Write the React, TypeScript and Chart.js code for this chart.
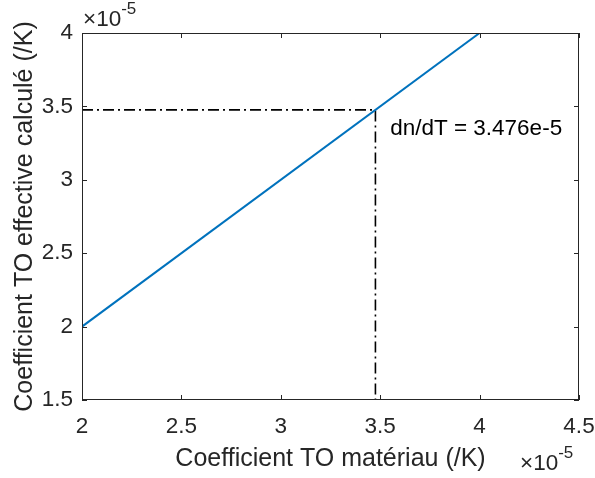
import React, { useEffect, useRef } from "react";
import { Chart, registerables } from "chart.js";

Chart.register(...registerables);

// Values in units of 1e-5 /K
const lineX = [2, 4];
const lineY = [2, 4];
const dnDT = 3.476;
const guideX = [2, dnDT, dnDT];
const guideY = [dnDT, dnDT, 1.5];
const xTicks = [2, 2.5, 3, 3.5, 4, 4.5];
const yTicks = [1.5, 2, 2.5, 3, 3.5, 4];
const xRange = [2, 4.5];
const yRange = [1.5, 4];
const annotationText = "dn/dT = 3.476e-5";
const annotationAt = [3.55, 3.35];
const xTitle = "Coefficient TO matériau (/K)";
const yTitle = "Coefficient TO effective calculé (/K)";
const exponentText = "-5";

const FONT = "'Liberation Sans', Arial, Helvetica, sans-serif";
const AXIS_COLOR = "#262626";
const TICK_SIZE = 22.5;
const TITLE_SIZE = 25;

const boxPlugin = {
  id: "matlabBox",
  afterDraw(chart: any) {
    const { ctx, chartArea, scales } = chart;
    const { left, right, top, bottom } = chartArea;
    ctx.save();
    ctx.strokeStyle = AXIS_COLOR;
    ctx.lineWidth = 1;
    ctx.strokeRect(left + 0.5, top + 0.5, right - left - 1, bottom - top - 1);
    const tl = 5;
    ctx.beginPath();
    xTicks.forEach((v) => {
      const px = Math.round(scales.x.getPixelForValue(v)) + 0.5;
      ctx.moveTo(px, bottom);
      ctx.lineTo(px, bottom - tl);
      ctx.moveTo(px, top);
      ctx.lineTo(px, top + tl);
    });
    yTicks.forEach((v) => {
      const py = Math.round(scales.y.getPixelForValue(v)) + 0.5;
      ctx.moveTo(left, py);
      ctx.lineTo(left + tl, py);
      ctx.moveTo(right, py);
      ctx.lineTo(right - tl, py);
    });
    ctx.stroke();

    // exponent labels
    ctx.fillStyle = AXIS_COLOR;
    ctx.textBaseline = "alphabetic";
    ctx.textAlign = "left";
    const drawExp = (x: number, y: number) => {
      ctx.font = `${TICK_SIZE}px ${FONT}`;
      const base = "\u00d710";
      ctx.fillText(base, x, y);
      const w = ctx.measureText(base).width;
      ctx.font = `17px ${FONT}`;
      ctx.fillText(exponentText, x + w, y - 12);
    };
    drawExp(left + 1, top - 7);
    drawExp(right - 59, bottom + 70);

    // annotation
    ctx.font = `${TICK_SIZE}px ${FONT}`;
    ctx.fillStyle = "#000000";
    ctx.textBaseline = "middle";
    ctx.fillText(
      annotationText,
      scales.x.getPixelForValue(annotationAt[0]),
      scales.y.getPixelForValue(annotationAt[1])
    );
    ctx.restore();
  },
};

export default function App() {
  const ref = useRef<HTMLCanvasElement | null>(null);
  useEffect(() => {
    document.body.style.margin = "0";
    const canvas = ref.current!;
    const chart = new Chart(canvas, {
      type: "scatter",
      data: {
        datasets: [
          {
            data: lineX.map((x, i) => ({ x, y: lineY[i] })),
            showLine: true,
            borderColor: "#0072BD",
            borderWidth: 2,
            pointRadius: 0,
            fill: false,
          },
          {
            data: guideX.map((x, i) => ({ x, y: guideY[i] })),
            showLine: true,
            borderColor: "#000000",
            borderWidth: 1.6,
            borderDash: [11, 4, 2, 4],
            pointRadius: 0,
            fill: false,
          },
        ],
      },
      options: {
        animation: false,
        responsive: false,
        devicePixelRatio: 1,
        layout: { padding: { left: 0, top: 33, right: 16, bottom: 0 } },
        plugins: { legend: { display: false }, tooltip: { enabled: false } },
        scales: {
          x: {
            type: "linear",
            min: xRange[0],
            max: xRange[1],
            afterBuildTicks: (s: any) => {
              s.ticks = xTicks.map((value) => ({ value }));
            },
            afterFit: (s: any) => {
              s.height = 78;
              s.paddingLeft = 0;
              s.paddingRight = 0;
            },
            grid: { display: false, drawTicks: false },
            border: { display: false },
            ticks: {
              color: AXIS_COLOR,
              font: { family: FONT, size: TICK_SIZE },
              padding: 13,
              maxRotation: 0,
              autoSkip: false,
              callback: (v: any) => String(v),
            },
            title: {
              display: true,
              text: xTitle,
              color: AXIS_COLOR,
              font: { family: FONT, size: TITLE_SIZE },
              padding: { top: 0, bottom: 4 },
            },
          },
          y: {
            type: "linear",
            min: yRange[0],
            max: yRange[1],
            afterBuildTicks: (s: any) => {
              s.ticks = yTicks.map((value) => ({ value }));
            },
            afterFit: (s: any) => {
              s.width = 82;
              s.paddingTop = 0;
              s.paddingBottom = 0;
            },
            grid: { display: false, drawTicks: false },
            border: { display: false },
            ticks: {
              color: AXIS_COLOR,
              font: { family: FONT, size: TICK_SIZE },
              padding: 9,
              autoSkip: false,
              callback: (v: any) => String(v),
            },
            title: {
              display: true,
              text: yTitle,
              color: AXIS_COLOR,
              font: { family: FONT, size: TITLE_SIZE },
              padding: { top: 10, bottom: 0 },
            },
          },
        },
      },
      plugins: [boxPlugin],
    } as any);
    return () => chart.destroy();
  }, []);
  return (
    <div style={{ position: "absolute", left: 0, top: 0, width: 595, height: 478, background: "#fff" }}>
      <canvas ref={ref} width={595} height={478} style={{ width: 595, height: 478, display: "block" }} />
    </div>
  );
}
